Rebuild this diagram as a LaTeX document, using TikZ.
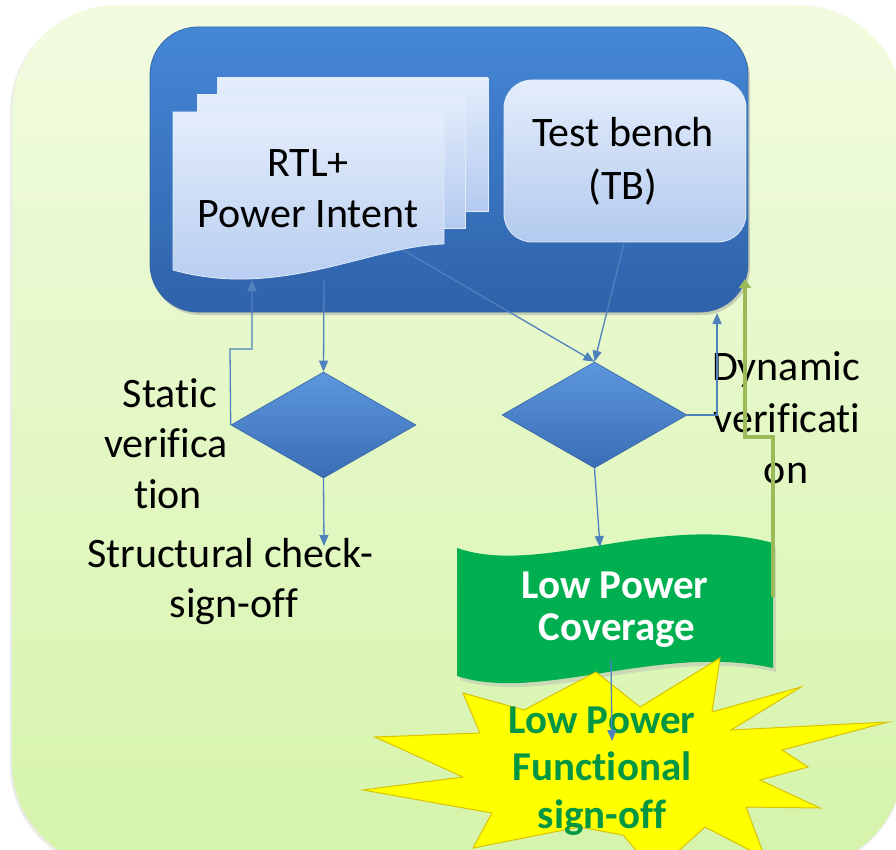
\documentclass[tikz,border=0pt]{standalone}
\usepackage{fontspec}
\setmainfont{Carlito}[Ligatures=NoCommon]
\usetikzlibrary{shapes.geometric,arrows.meta,shadows}

\definecolor{bgtop}{HTML}{F2FBE0}
\definecolor{bgbot}{HTML}{D5F4AA}
\definecolor{boxtop}{HTML}{4587D6}
\definecolor{boxbot}{HTML}{2F62AA}
\definecolor{boxedge}{HTML}{3466A8}
\definecolor{pagetop}{HTML}{E4EDFB}
\definecolor{pagebot}{HTML}{B3CAEF}
\definecolor{dmtop}{HTML}{5D97DE}
\definecolor{dmbot}{HTML}{3A6DB6}
\definecolor{wire}{HTML}{4F81BD}
\definecolor{flaggreen}{HTML}{00B050}
\definecolor{loopgreen}{HTML}{9BBB59}
\definecolor{burst}{HTML}{FFFF00}
\definecolor{burstedge}{HTML}{D9C200}

\tikzset{
  coreframe/.style={rounded corners=48pt, top color=boxtop, bottom color=boxbot,
    draw=boxedge, line width=0.8pt, minimum width=598pt, minimum height=285pt,
    inner sep=0pt, drop shadow={shadow xshift=2pt, shadow yshift=-3pt, opacity=0.35}},
  sheet/.style={top color=pagetop, bottom color=pagebot, draw=white!60!pagebot, line width=0.8pt},
  tbframe/.style={rounded corners=28pt, top color=pagetop, bottom color=pagebot,
    draw=white!60!pagebot, line width=0.8pt, minimum width=242pt, minimum height=162pt, inner sep=0pt},
  decision/.style={diamond, aspect=1.75, minimum width=185pt, minimum height=106pt,
    inner sep=0pt, top color=dmtop, bottom color=dmbot, draw=dmbot!90!black, line width=0.6pt},
  txt/.style={anchor=base, inner sep=0pt, font=\fontsize{42}{50}\selectfont},
  flagtxt/.style={anchor=base, inner sep=0pt, text=white, font=\fontsize{41}{46}\selectfont\bfseries},
  bursttxt/.style={anchor=base, inner sep=0pt, text=flaggreen!85!black, font=\fontsize{41}{48}\selectfont\bfseries},
  conn/.style={draw=wire, line width=1.3pt, -{Triangle[length=11pt,width=9pt]}},
  greenloop/.style={draw=loopgreen, line width=4.5pt, -{Triangle[length=9pt,width=12pt]}},
}

\begin{document}
\begin{tikzpicture}[x=1pt,y=-1pt]
\useasboundingbox (0,0) rectangle (896,850);
\fill[white] (0,0) rectangle (896,850);

% panel behind everything
\fill[black!8] (10,7) [rounded corners=105pt] rectangle (903,870);
\shade[top color=bgtop, bottom color=bgbot, rounded corners=105pt] (12,5) rectangle (903,868);

% blue frame holding design and test bench
\node[coreframe] (core) at (449,169.5) {};

% stacked design pages
\path[sheet] (217,78) rectangle (488,211);
\path[sheet] (197,95) rectangle (465,228);
\path[sheet] (173,112) -- (444,112) -- (444,244)
   .. controls (370,246) and (280,300) .. (173,270) -- cycle;
\coordinate (docout) at (324,279);
\coordinate (docin)  at (252,280);
\coordinate (docdiag) at (403,250);
\node[txt] (rtl) at (308,177) {RTL+};
\node[txt] (pint) at (308,228) {Power Intent};

% test bench
\node[tbframe] (tb) at (625,161) {};
\node[txt] (tb1) at (623,147) {Test bench};
\node[txt] (tb2) at (623,200) {(TB)};
\coordinate (tbout) at (624,243);

% decisions
\node[decision] (d1) at (323.5,425) {};
\node[decision] (d2) at (594.5,415) {};

% coverage flag
\path[fill=black!30, opacity=0.4] (460,552) .. controls (543,581) and (663,516) .. (776,547)
   -- (776,672) .. controls (663,647) and (543,707) .. (460,680) -- cycle;
\path[fill=flaggreen] (457,548) .. controls (540,577) and (660,512) .. (773,543)
   -- (773,668) .. controls (660,643) and (540,703) .. (457,676) -- cycle;
\coordinate (flagin)  at (600,547);
\coordinate (flagout) at (611,660);
\node[flagtxt] (cov1) at (615,598) {Low Power};
\node[flagtxt] (cov2) at (617,640) {Coverage};

% sign-off burst
\path[fill=burst, draw=burstedge, line width=1pt]
  (720,658) -- (712,712) -- (801,687) -- (731,730) -- (888,722) -- (782,750)
  -- (808,767) -- (760,780) -- (820,808) -- (746,807) -- (765,858) -- (705,827)
  -- (655,872) -- (623,835) -- (579,827) -- (473,848) -- (492,813) -- (363,790)
  -- (463,777) -- (375,737) -- (480,733) -- (463,693) -- (524,710) -- (596,672)
  -- (640,707) -- cycle;
\coordinate (burstin) at (612,741);
\node[bursttxt] (lp1) at (602,733) {Low Power};
\node[bursttxt] (lp2) at (602,780) {Functional};
\node[bursttxt] (lp3) at (602,828) {sign-off};

% side labels
\node[txt] (st1) at (170,407) {Static};
\node[txt] (st2) at (166,457) {verifica};
\node[txt] (st3) at (168,508) {tion};
\node[txt] (sc1) at (230,567) {Structural check-};
\node[txt] (sc2) at (234,617) {sign-off};
\coordinate (scin) at (324,546);
\node[txt] (dy1) at (786,380) {Dynamic};
\node[txt] (dy2) at (787,432) {verificati};
\node[txt] (dy3) at (786,483) {on};

% connectors
\draw[conn] (docout) -- (d1.north);
\draw[conn] (d1.west) -- (230,349) -- (252,349) -- (docin);
\draw[conn] (d1.south) -- (scin);
\draw[conn] (docdiag) -- (d2.north);
\draw[conn] (tbout) -- (d2.north);
\coordinate (dyn) at (717,313);
\draw[conn] (d2.east) -- (dyn |- d2.east) -- (dyn);
\draw[conn] (d2.south) -- (flagin);
\draw[conn] (flagout) -- (burstin);

% coverage feedback loop
\coordinate (loopstart) at (773,597);
\coordinate (looptip) at (745,279);
\draw[greenloop] (loopstart) -- (773,437) -- (745,437) -- (looptip);
\end{tikzpicture}
\end{document}
